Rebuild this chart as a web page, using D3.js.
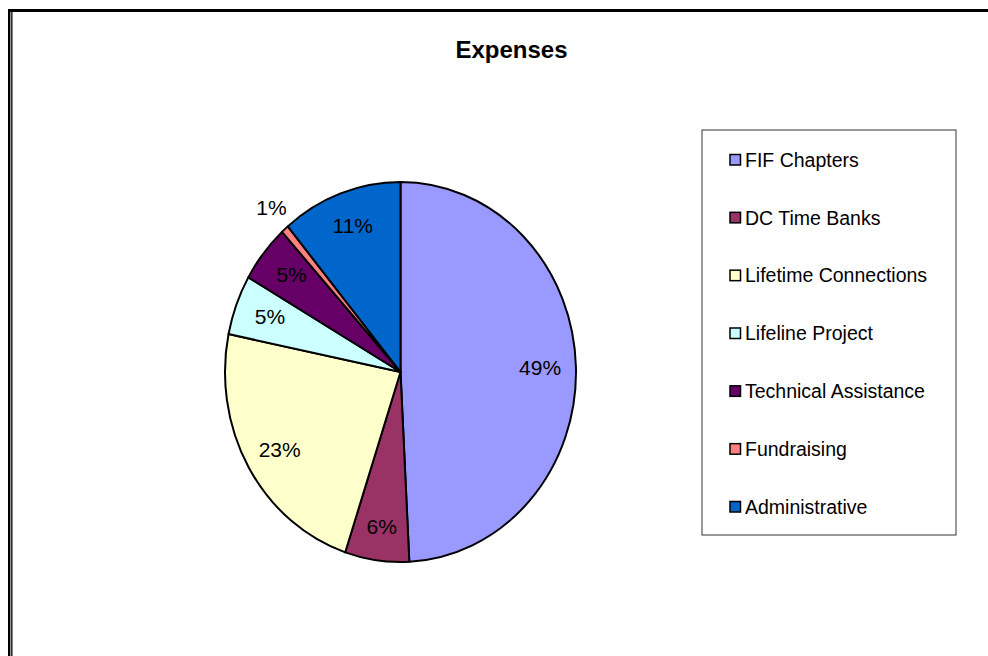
<!DOCTYPE html>
<html>
<head>
<meta charset="utf-8">
<script src="https://d3js.org/d3.v7.min.js"></script>
<style>
  body { margin: 0; background: #fff; }
  text { font-family: "Liberation Sans", Arial, sans-serif; }
</style>
</head>
<body>
<div id="chart"></div>
<script>
// expense shares (percent)
var categories = ["FIF Chapters", "DC Time Banks", "Lifetime Connections", "Lifeline Project", "Technical Assistance", "Fundraising", "Administrative"]
var shares = [49.2, 5.9, 23.1, 5.1, 4.9, 0.7, 11.1]
var colors = ["#9999ff", "#993366", "#ffffcc", "#ccffff", "#660066", "#ff8080", "#0066cc"]
var title = "Expenses"

var W = 988, H = 656
var cx = 400.5, cy = 372, rx = 175.5, ry = 190

var svg = d3.select("#chart").append("svg").attr("width", W).attr("height", H)

// frame (top + double left rule, the rest is cropped)
svg.append("rect").attr("x", 8).attr("y", 9).attr("width", W - 8).attr("height", 3).attr("fill", "#000")
svg.append("rect").attr("x", 8).attr("y", 9).attr("width", 2.4).attr("height", H - 9).attr("fill", "#000")
svg.append("rect").attr("x", 11.2).attr("y", 12).attr("width", 1.3).attr("height", H - 12).attr("fill", "#000")

svg.append("text")
  .attr("x", 511.5).attr("y", 58)
  .attr("text-anchor", "middle")
  .style("font-size", "24px").style("font-weight", "bold")
  .text(title)

var data = categories.map(function (c, i) { return { name: c, value: shares[i], color: colors[i] } })

var pie = d3.pie().sort(null).value(function (d) { return d.value })
var arcs = pie(data)
var arc = d3.arc().innerRadius(0).outerRadius(ry)

// the original pie is a bit squashed horizontally
var g = svg.append("g").attr("transform", "translate(" + cx + "," + cy + ") scale(" + (rx / ry) + ",1)")
g.selectAll("path")
  .data(arcs)
  .enter()
  .append("path")
  .attr("d", arc)
  .attr("fill", function (d) { return d.data.color })
  .attr("stroke", "#000")
  .attr("stroke-width", 2)
  .attr("stroke-linejoin", "round")
  .attr("vector-effect", "non-scaling-stroke")

var inLabel = d3.arc().innerRadius(ry * 0.82).outerRadius(ry * 0.82)
var outLabel = d3.arc().innerRadius(ry * 1.15).outerRadius(ry * 1.15)
var fmt = function (v) { return Math.round(v) + "%" }

svg.append("g").selectAll("text")
  .data(arcs)
  .enter()
  .append("text")
  .attr("x", function (d) {
    var c = (d.data.value < 2 ? outLabel : inLabel).centroid(d)
    return cx + c[0] * rx / ry * 0.97
  })
  .attr("y", function (d) {
    var c = (d.data.value < 2 ? outLabel : inLabel).centroid(d)
    return cy + c[1]
  })
  .attr("dy", "0.35em")
  .attr("text-anchor", "middle")
  .style("font-size", "21px")
  .attr("fill", "#000")
  .text(function (d) { return fmt(d.data.value) })

// legend
var lx = 702, ly = 130, lw = 254, lh = 405
var legend = svg.append("g")
legend.append("rect")
  .attr("x", lx).attr("y", ly).attr("width", lw).attr("height", lh)
  .attr("fill", "#fff").attr("stroke", "#333").attr("stroke-width", 1)

var ys = d3.scalePoint().domain(categories).range([160, 507])

var items = legend.selectAll(".item")
  .data(data)
  .enter()
  .append("g")
  .attr("class", "item")
  .attr("transform", function (d) { return "translate(" + 730 + "," + ys(d.name) + ")" })

items.append("rect")
  .attr("x", 0).attr("y", -5.5).attr("width", 10.5).attr("height", 10.5)
  .attr("fill", function (d) { return d.color })
  .attr("stroke", "#000").attr("stroke-width", 1.5)

items.append("text")
  .attr("x", 15).attr("dy", "0.35em")
  .style("font-size", "19.5px")
  .text(function (d) { return d.name })
</script>
</body>
</html>
